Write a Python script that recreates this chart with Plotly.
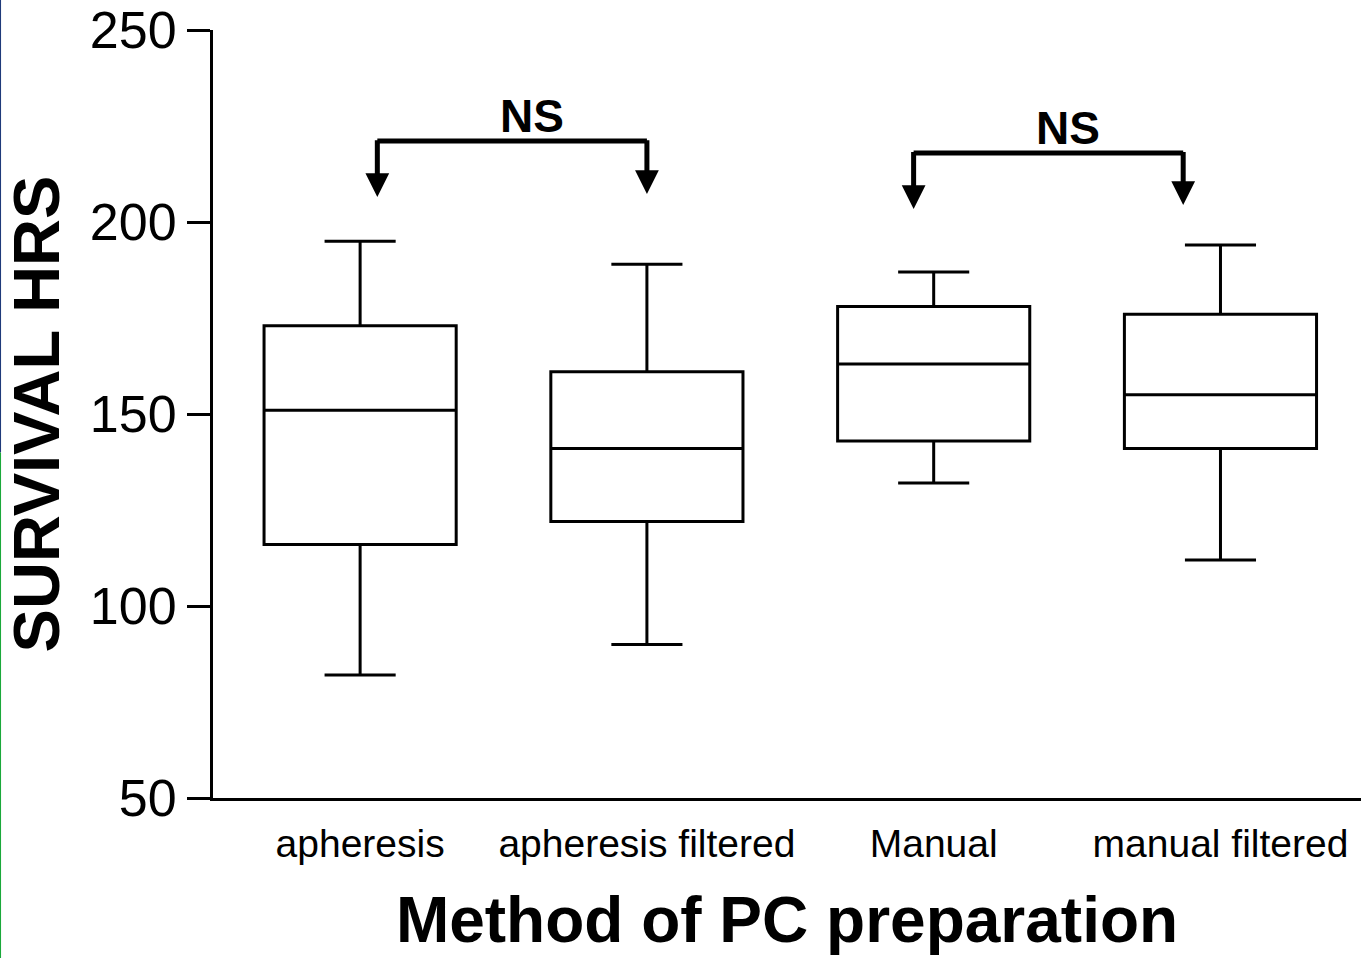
import plotly.graph_objects as go

categories = ["apheresis", "apheresis filtered", "Manual", "manual filtered"]
lower_whisker = [82, 90, 132, 112]
q1_values = [116, 122, 143, 141]
medians = [151, 141, 163, 155]
q3_values = [173, 161, 178, 176]
upper_whisker = [195, 189, 187, 194]

y_ticks = [50, 100, 150, 200, 250]

# significance brackets (category positions / y values)
bracket_left_x = [0.06, 1.93]
bracket_right_x = [1.0, 2.87]
bracket_y = [221.1, 218.0]
tip_left_y = [206.5, 203.4]
tip_right_y = [207.3, 204.4]
bracket_labels = ["NS", "NS"]
label_x = [0.60, 2.47]
label_y = [227.6, 224.5]

positions = list(range(len(categories)))

fig = go.Figure()
fig.add_trace(go.Box(
    x=positions,
    q1=q1_values, median=medians, q3=q3_values,
    lowerfence=lower_whisker, upperfence=upper_whisker,
    fillcolor="white",
    line=dict(color="black", width=3),
    width=0.67,
    whiskerwidth=0.37,
    boxpoints=False,
    showlegend=False,
    hoverinfo="skip",
))

shapes = []
annotations = []
for i in range(len(bracket_y)):
    shapes.append(dict(type="line", xref="x", yref="y",
                       x0=bracket_left_x[i], x1=bracket_right_x[i],
                       y0=bracket_y[i], y1=bracket_y[i],
                       line=dict(color="black", width=5)))
    for bx, ty in ((bracket_left_x[i], tip_left_y[i]), (bracket_right_x[i], tip_right_y[i])):
        annotations.append(dict(x=bx, y=ty, ax=bx, ay=bracket_y[i] + 0.6,
                                xref="x", yref="y", axref="x", ayref="y",
                                showarrow=True, arrowhead=2, arrowwidth=5,
                                arrowsize=0.95, arrowcolor="black", text=""))
    annotations.append(dict(x=label_x[i], y=label_y[i], xref="x", yref="y",
                            text="<b>" + bracket_labels[i] + "</b>", showarrow=False,
                            font=dict(family="Liberation Sans Narrow, Liberation Sans, Arial",
                                      size=46, color="black")))

# thin coloured frame line on the left edge of the picture
shapes.append(dict(type="line", xref="paper", yref="paper", x0=-0.1855, x1=-0.1855,
                   y0=0.45, y1=1.2, line=dict(color="#1f3a7a", width=2)))
shapes.append(dict(type="line", xref="paper", yref="paper", x0=-0.1855, x1=-0.1855,
                   y0=-0.25, y1=0.45, line=dict(color="#1aa83a", width=2)))

fig.update_layout(
    width=1361, height=958,
    margin=dict(l=213, r=0, t=30, b=160),
    paper_bgcolor="white", plot_bgcolor="white",
    font=dict(family="Liberation Sans, Arial", color="black"),
    shapes=shapes,
    annotations=annotations,
    xaxis=dict(
        range=[-0.513, 3.49],
        tickmode="array", tickvals=positions, ticktext=categories,
        ticks="", showgrid=False, zeroline=False,
        showline=True, linecolor="black", linewidth=3,
        tickfont=dict(size=39, family="Liberation Sans, Arial"),
        ticklabelstandoff=9,
        title=dict(text="<b>Method of PC preparation</b>",
                   font=dict(size=64, family="Liberation Sans Narrow, Liberation Sans, Arial"),
                   standoff=34),
    ),
    yaxis=dict(
        range=[50, 250],
        tickmode="array", tickvals=y_ticks,
        ticks="outside", ticklen=23, tickwidth=3, tickcolor="black",
        showgrid=False, zeroline=False,
        showline=True, linecolor="black", linewidth=3,
        tickfont=dict(size=52, family="Liberation Sans, Arial"),
        title=dict(text="<b>SURVIVAL HRS</b>",
                   font=dict(size=65, family="Liberation Sans Narrow, Liberation Sans, Arial"),
                   standoff=18),
    ),
)

fig.write_html("out.html")
